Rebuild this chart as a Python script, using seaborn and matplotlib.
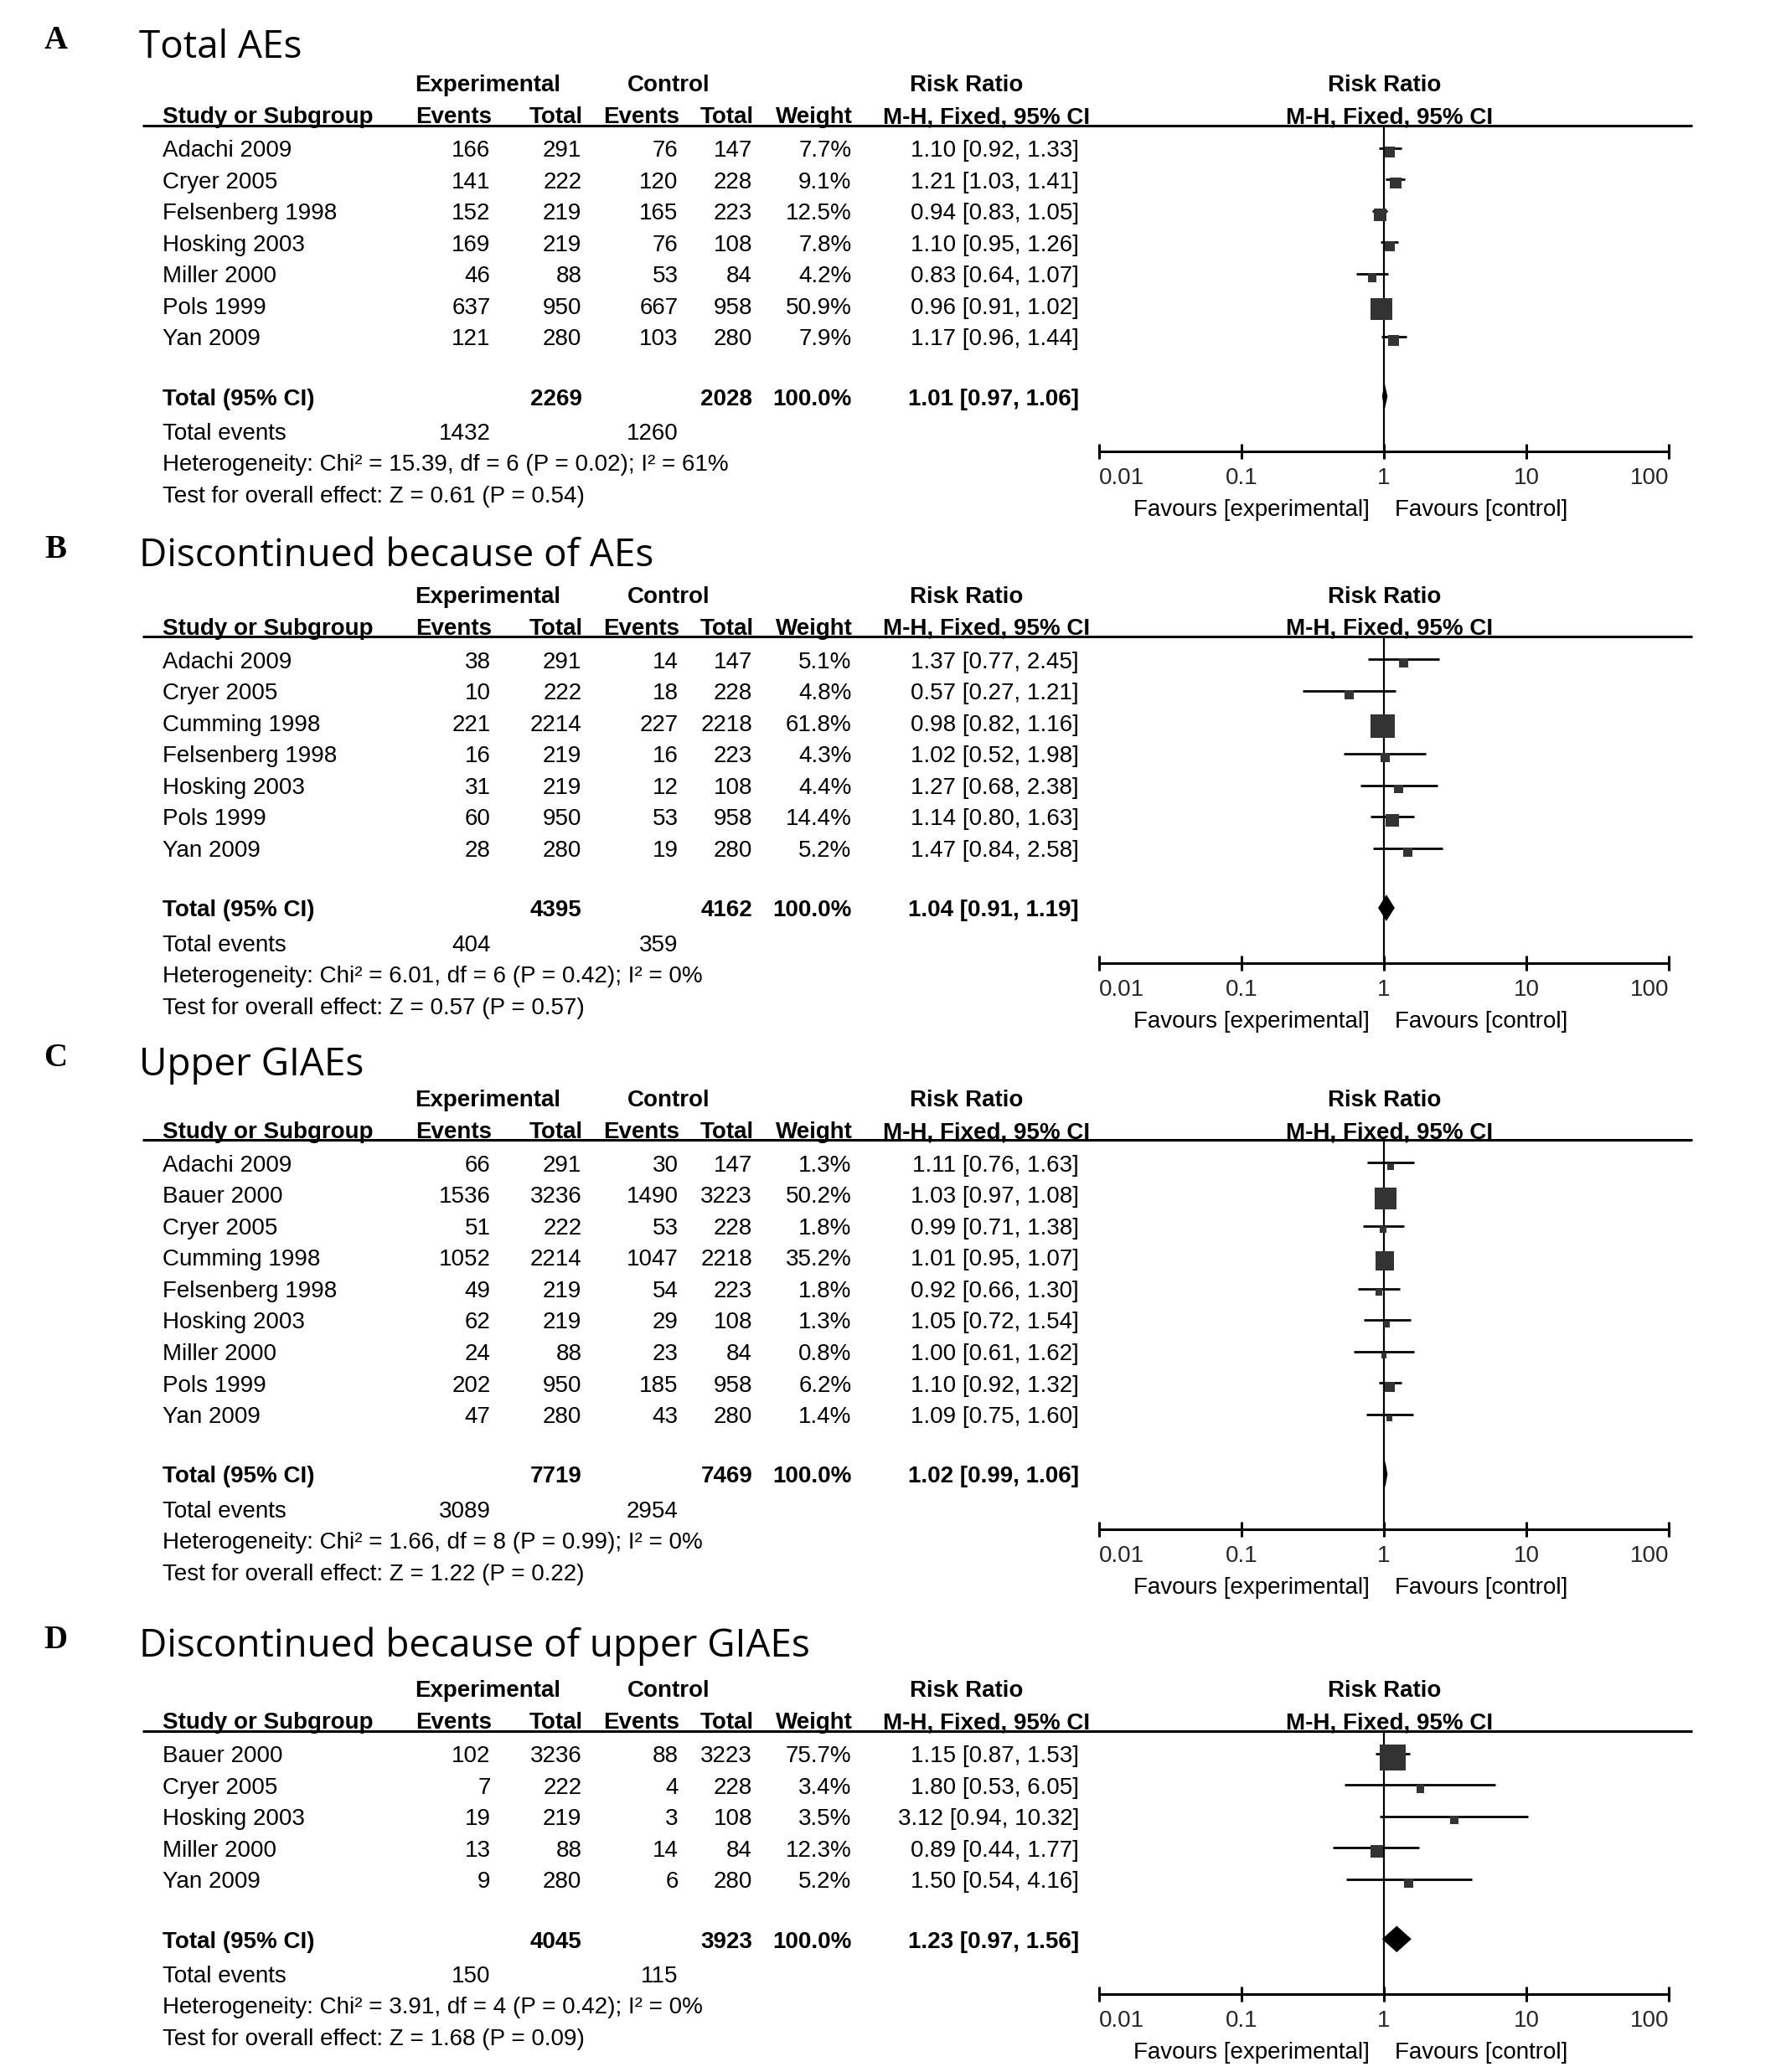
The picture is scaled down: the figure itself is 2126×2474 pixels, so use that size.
import numpy as np
import matplotlib
matplotlib.use('Agg')
import matplotlib.pyplot as plt
import seaborn as sns

# Panel A: Total AEs
a_study = ['Adachi 2009', 'Cryer 2005', 'Felsenberg 1998', 'Hosking 2003', 'Miller 2000', 'Pols 1999', 'Yan 2009']
a_exp_ev = [166, 141, 152, 169, 46, 637, 121]
a_exp_tot = [291, 222, 219, 219, 88, 950, 280]
a_ctl_ev = [76, 120, 165, 76, 53, 667, 103]
a_ctl_tot = [147, 228, 223, 108, 84, 958, 280]
a_weight = [7.7, 9.1, 12.5, 7.8, 4.2, 50.9, 7.9]
a_rr = [1.10, 1.21, 0.94, 1.10, 0.83, 0.96, 1.17]
a_lo = [0.92, 1.03, 0.83, 0.95, 0.64, 0.91, 0.96]
a_hi = [1.33, 1.41, 1.05, 1.26, 1.07, 1.02, 1.44]
a_total = [2269, 2028, 1.01, 0.97, 1.06]
a_events = [1432, 1260]
a_stats = [15.39, 6, '0.02', 61, 0.61, '0.54']

# Panel B: Discontinued because of AEs
b_study = ['Adachi 2009', 'Cryer 2005', 'Cumming 1998', 'Felsenberg 1998', 'Hosking 2003', 'Pols 1999', 'Yan 2009']
b_exp_ev = [38, 10, 221, 16, 31, 60, 28]
b_exp_tot = [291, 222, 2214, 219, 219, 950, 280]
b_ctl_ev = [14, 18, 227, 16, 12, 53, 19]
b_ctl_tot = [147, 228, 2218, 223, 108, 958, 280]
b_weight = [5.1, 4.8, 61.8, 4.3, 4.4, 14.4, 5.2]
b_rr = [1.37, 0.57, 0.98, 1.02, 1.27, 1.14, 1.47]
b_lo = [0.77, 0.27, 0.82, 0.52, 0.68, 0.80, 0.84]
b_hi = [2.45, 1.21, 1.16, 1.98, 2.38, 1.63, 2.58]
b_total = [4395, 4162, 1.04, 0.91, 1.19]
b_events = [404, 359]
b_stats = [6.01, 6, '0.42', 0, 0.57, '0.57']

# Panel C: Upper GIAEs
c_study = ['Adachi 2009', 'Bauer 2000', 'Cryer 2005', 'Cumming 1998', 'Felsenberg 1998', 'Hosking 2003',
           'Miller 2000', 'Pols 1999', 'Yan 2009']
c_exp_ev = [66, 1536, 51, 1052, 49, 62, 24, 202, 47]
c_exp_tot = [291, 3236, 222, 2214, 219, 219, 88, 950, 280]
c_ctl_ev = [30, 1490, 53, 1047, 54, 29, 23, 185, 43]
c_ctl_tot = [147, 3223, 228, 2218, 223, 108, 84, 958, 280]
c_weight = [1.3, 50.2, 1.8, 35.2, 1.8, 1.3, 0.8, 6.2, 1.4]
c_rr = [1.11, 1.03, 0.99, 1.01, 0.92, 1.05, 1.00, 1.10, 1.09]
c_lo = [0.76, 0.97, 0.71, 0.95, 0.66, 0.72, 0.61, 0.92, 0.75]
c_hi = [1.63, 1.08, 1.38, 1.07, 1.30, 1.54, 1.62, 1.32, 1.60]
c_total = [7719, 7469, 1.02, 0.99, 1.06]
c_events = [3089, 2954]
c_stats = [1.66, 8, '0.99', 0, 1.22, '0.22']

# Panel D: Discontinued because of upper GIAEs
d_study = ['Bauer 2000', 'Cryer 2005', 'Hosking 2003', 'Miller 2000', 'Yan 2009']
d_exp_ev = [102, 7, 19, 13, 9]
d_exp_tot = [3236, 222, 219, 88, 280]
d_ctl_ev = [88, 4, 3, 14, 6]
d_ctl_tot = [3223, 228, 108, 84, 280]
d_weight = [75.7, 3.4, 3.5, 12.3, 5.2]
d_rr = [1.15, 1.80, 3.12, 0.89, 1.50]
d_lo = [0.87, 0.53, 0.94, 0.44, 0.54]
d_hi = [1.53, 6.05, 10.32, 1.77, 4.16]
d_total = [4045, 3923, 1.23, 0.97, 1.56]
d_events = [150, 115]
d_stats = [3.91, 4, '0.42', 0, 1.68, '0.09']

letters = ['A', 'B', 'C', 'D']
titles = ['Total AEs', 'Discontinued because of AEs', 'Upper GIAEs', 'Discontinued because of upper GIAEs']
ticks = [0.01, 0.1, 1, 10, 100]
tick_labels = ['0.01', '0.1', '1', '10', '100']

panels = [
    (a_study, a_exp_ev, a_exp_tot, a_ctl_ev, a_ctl_tot, a_weight, a_rr, a_lo, a_hi, a_total, a_events, a_stats),
    (b_study, b_exp_ev, b_exp_tot, b_ctl_ev, b_ctl_tot, b_weight, b_rr, b_lo, b_hi, b_total, b_events, b_stats),
    (c_study, c_exp_ev, c_exp_tot, c_ctl_ev, c_ctl_tot, c_weight, c_rr, c_lo, c_hi, c_total, c_events, c_stats),
    (d_study, d_exp_ev, d_exp_tot, d_ctl_ev, d_ctl_tot, d_weight, d_rr, d_lo, d_hi, d_total, d_events, d_stats),
]

# layout (in units of the 1347x1568 preview)
W, H = 1347, 1568
row0 = [112, 499, 880, 1327]
title_y = [35, 420, 805, 1245]
row_h = 23.8
col_x = [371, 440, 513, 569, 644, 816]

sns.set_theme(style='white')
narrow = ['Liberation Sans Narrow', 'Liberation Sans', 'DejaVu Sans']
plt.rcParams['font.family'] = narrow
plt.rcParams['text.color'] = 'black'
fs = 20

fig = plt.figure(figsize=(21.26, 24.74), dpi=100)
bg = fig.add_axes([0, 0, 1, 1])
bg.set_xlim(0, W)
bg.set_ylim(H, 0)
bg.axis('off')


def txt(x, y, s, ha='left', bold=False, **kw):
    # y is the vertical centre of the capitals
    bg.text(x, y + 6.5, s, ha=ha, va='baseline', fontsize=fs,
            fontweight='bold' if bold else 'normal', **kw)


for k, (study, e_ev, e_tot, c_ev, c_tot, wt, rr, lo, hi, tot, evs, st) in enumerate(panels):
    n = len(study)
    r0 = row0[k]
    hy = r0 - 0.72 * row_h
    axis_y = r0 + (n + 2.66) * row_h

    bg.text(42, title_y[k] - 4, letters[k], ha='center', va='center', fontsize=28,
            fontweight='bold', family=['Liberation Serif', 'DejaVu Serif'])
    bg.text(105, title_y[k] + 1, titles[k], ha='left', va='center', fontsize=33,
            fontweight='medium', family=['Open Sans', 'DejaVu Sans'])

    # header
    txt(369, hy - 32, 'Experimental', ha='center', bold=True)
    txt(506, hy - 32, 'Control', ha='center', bold=True)
    txt(731, hy - 32, 'Risk Ratio', ha='center', bold=True)
    txt(1047, hy - 32, 'Risk Ratio', ha='center', bold=True)
    txt(123, hy - 8, 'Study or Subgroup', bold=True)
    for x, s in zip(col_x[:5], ['Events', 'Total', 'Events', 'Total', 'Weight']):
        txt(x + 1, hy - 8, s, ha='right', bold=True)
    txt(746, hy - 8, 'M-H, Fixed, 95% CI', ha='center', bold=True)
    txt(1051, hy - 8, 'M-H, Fixed, 95% CI', ha='center', bold=True)
    bg.plot([108, 1280], [hy, hy], color='black', lw=2.2, solid_capstyle='butt')

    # study rows
    for i in range(n):
        y = r0 + i * row_h
        txt(123, y, study[i])
        vals = [str(e_ev[i]), str(e_tot[i]), str(c_ev[i]), str(c_tot[i]), f'{wt[i]:.1f}%',
                f'{rr[i]:.2f} [{lo[i]:.2f}, {hi[i]:.2f}]']
        for x, s in zip(col_x, vals):
            txt(x, y, s, ha='right')

    # totals
    yt = r0 + (n + 0.9) * row_h
    txt(123, yt, 'Total (95% CI)', bold=True)
    txt(col_x[1], yt, str(tot[0]), ha='right', bold=True)
    txt(col_x[3], yt, str(tot[1]), ha='right', bold=True)
    txt(col_x[4], yt, '100.0%', ha='right', bold=True)
    txt(col_x[5], yt, f'{tot[2]:.2f} [{tot[3]:.2f}, {tot[4]:.2f}]', ha='right', bold=True)
    ye = r0 + (n + 2.0) * row_h
    txt(123, ye, 'Total events')
    txt(col_x[0], ye, str(evs[0]), ha='right')
    txt(col_x[2], ye, str(evs[1]), ha='right')
    txt(123, r0 + (n + 3.0) * row_h,
        f'Heterogeneity: Chi\u00b2 = {st[0]:.2f}, df = {st[1]} (P = {st[2]}); I\u00b2 = {st[3]}%')
    txt(123, r0 + (n + 4.0) * row_h, f'Test for overall effect: Z = {st[4]:.2f} (P = {st[5]})')

    # forest plot axes
    x0, x1 = 831.3, 1262.1
    ax = fig.add_axes([x0 / W, 1 - axis_y / H, (x1 - x0) / W, (axis_y - hy) / H])
    ax.set_xscale('log')
    ax.set_xlim(0.01, 100)
    ax.set_ylim(n + 2.66, -0.72)
    ax.patch.set_alpha(0)
    rows = np.arange(n)
    ax.axvline(1, color='black', lw=1.6, zorder=1)
    ax.hlines(rows, lo, hi, color='black', lw=2.0, zorder=2)
    side_px = 3.1 * np.sqrt(np.array(wt)) + 4
    sns.scatterplot(x=rr, y=rows + 0.12, s=(side_px * 0.72) ** 2, marker='s', color='#333333',
                    linewidth=0, legend=False, ax=ax, zorder=3)
    ax.fill([tot[3], tot[2], tot[4], tot[2]], [n + 0.9, n + 0.9 - 0.42, n + 0.9, n + 0.9 + 0.42],
            color='black', lw=0, zorder=3)

    for sp in ['top', 'left', 'right']:
        ax.spines[sp].set_visible(False)
    ax.spines['bottom'].set_linewidth(2.2)
    ax.spines['bottom'].set_color('black')
    ax.set_xticks(ticks)
    ax.set_xticklabels(tick_labels, fontsize=fs)
    ax.minorticks_off()
    ax.set_yticks([])
    ax.tick_params(axis='x', direction='inout', length=13, width=2.2, color='black', pad=7, bottom=True)
    labs = ax.get_xticklabels()
    labs[0].set_ha('left')
    labs[-1].set_ha('right')
    ax.set_xlabel('')
    ax.set_ylabel('')

    txt(1036, axis_y + 42, 'Favours [experimental]', ha='right')
    txt(1055, axis_y + 42, 'Favours [control]', ha='left')

fig.savefig('out.png', dpi=100, facecolor='white')
